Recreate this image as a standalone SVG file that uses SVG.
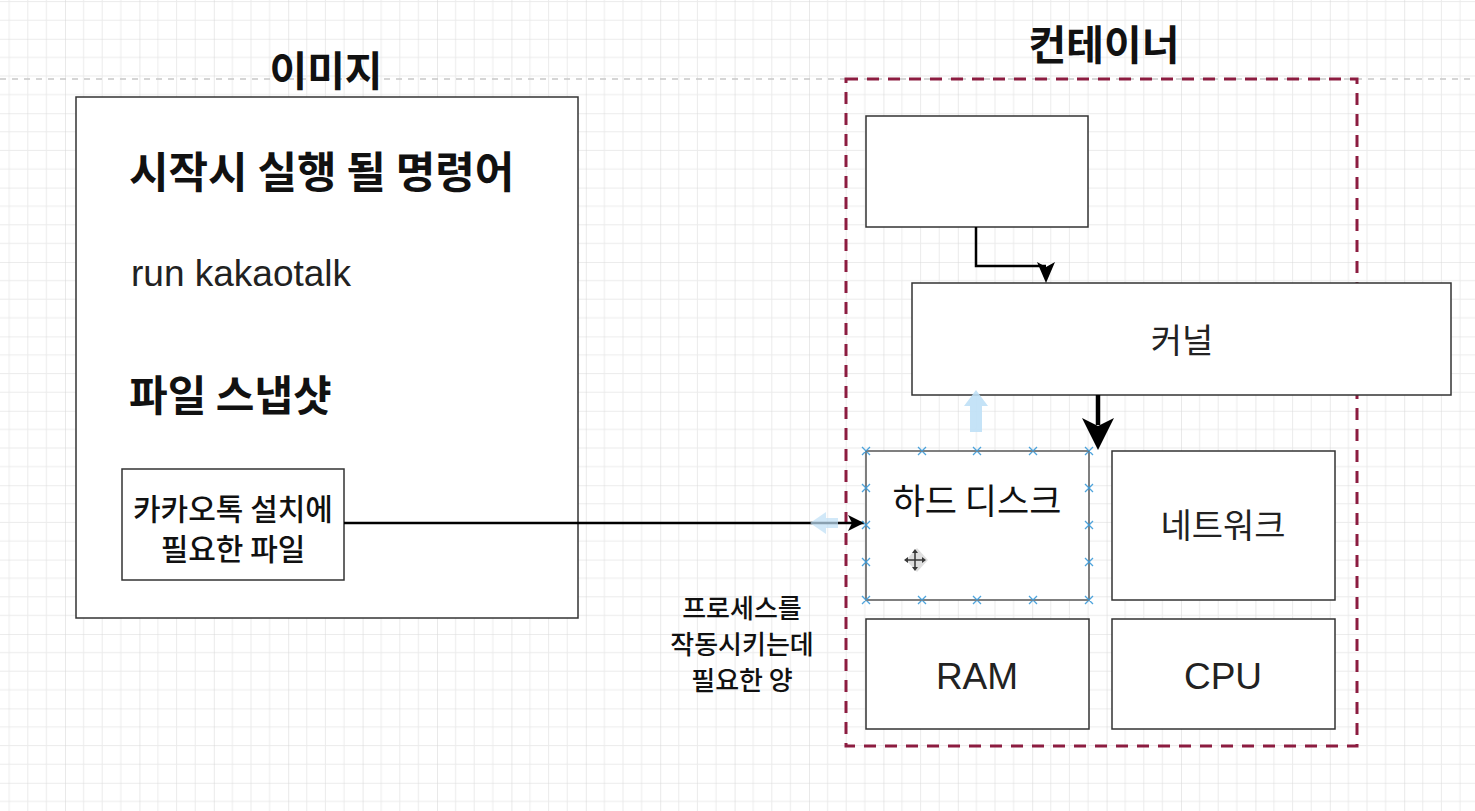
<svg xmlns="http://www.w3.org/2000/svg" width="1475" height="811" viewBox="0 0 1475 811">
<defs>
<pattern id="grid" patternUnits="userSpaceOnUse" x="-9.4" y="-35.6" width="74.4" height="74.4">
<path d="M18.6 0V74.4M37.2 0V74.4M55.8 0V74.4M0 18.6H74.4M0 37.2H74.4M0 55.8H74.4" stroke="#ebebeb" stroke-width="1" fill="none"/>
<path d="M0 0V74.4M0 0H74.4" stroke="#dadada" stroke-width="1.2" fill="none"/>
</pattern>
<marker id="arr" markerWidth="18" markerHeight="16" refX="16" refY="8" orient="auto" markerUnits="userSpaceOnUse">
<path d="M0 0L16 8L0 16L4 8Z" fill="#000"/>
</marker>
</defs>
<style>
.box{fill:#fff;stroke:#333;stroke-width:1.5}
.kr{font-family:"Noto Sans CJK KR","Noto Sans",sans-serif;fill:#111}
.en{font-family:"Liberation Sans",Arial,sans-serif;fill:#222}
.title{font-size:41px;font-weight:bold}
.h{font-weight:bold}
.lbl{font-size:34px;fill:#222}
.mid{text-anchor:middle}
.hd{stroke:#3a9ad9;stroke-width:1.3}
</style>
<rect width="1475" height="811" fill="#fff"/>
<rect width="1475" height="811" fill="url(#grid)"/>
<line x1="0" y1="79" x2="1475" y2="79" stroke="#c8c8c8" stroke-width="1.5" stroke-dasharray="6 6"/>

<g id="image-title"><text class="kr title mid" x="326" y="86">이미지</text></g>
<g id="image-box">
<rect class="box" x="76" y="97" width="502" height="521"/>
<text class="kr h" x="129" y="188" font-size="43">시작시 실행 될 명령어</text>
<text class="en" x="131" y="286" font-size="37">run kakaotalk</text>
<text class="kr h" x="129" y="411" font-size="42">파일 스냅샷</text>
</g>
<g id="files-box">
<rect class="box" x="122" y="469" width="222" height="111"/>
<text class="kr mid" x="233" y="520" font-size="30" font-weight="500">카카오톡 설치에</text>
<text class="kr mid" x="233" y="560" font-size="30" font-weight="500">필요한 파일</text>
</g>

<g id="container-title"><text class="kr title mid" x="1104" y="60">컨테이너</text></g>
<g id="container">
<rect x="846" y="79" width="511" height="667" fill="none" stroke="#8c1c40" stroke-width="3" stroke-dasharray="12 9"/>
</g>
<g id="top-box"><rect class="box" x="866" y="116" width="222" height="111"/></g>
<g id="kernel">
<rect class="box" x="912" y="283" width="539" height="112"/>
<text class="kr lbl mid" x="1182" y="353">커널</text>
</g>
<g id="harddisk">
<rect x="866" y="451" width="223" height="149" fill="#fff" stroke="#555" stroke-width="1.5"/>
<text class="kr mid" x="977" y="514" font-size="35" fill="#222">하드 디스크</text>
</g>
<g id="network">
<rect class="box" x="1112" y="451" width="223" height="149"/>
<text class="kr lbl mid" x="1223" y="538">네트워크</text>
</g>
<g id="ram">
<rect class="box" x="866" y="619" width="223" height="110"/>
<text class="en mid" x="977" y="689" font-size="37">RAM</text>
</g>
<g id="cpu">
<rect class="box" x="1112" y="619" width="223" height="110"/>
<text class="en mid" x="1223" y="689" font-size="37">CPU</text>
</g>
<g id="process-label">
<text class="kr mid" x="742" y="618" font-size="26" font-weight="500">프로세스를</text>
<text class="kr mid" x="742" y="654" font-size="26" font-weight="500">작동시키는데</text>
<text class="kr mid" x="742" y="690" font-size="26" font-weight="500">필요한 양</text>
</g>

<g id="connectors">
<path d="M976 227V266H1046" fill="none" stroke="#000" stroke-width="2.5"/>
<path d="M1037 262L1046 283L1055 262L1046 267Z" fill="#000"/>
<line x1="344" y1="523" x2="864" y2="523" stroke="#000" stroke-width="2.5" marker-end="url(#arr)"/>
<line x1="1098" y1="395" x2="1098" y2="425" stroke="#000" stroke-width="4.5"/>
<path d="M1082 418L1098 450L1114 418L1098 426Z" fill="#000"/>
</g>

<g id="selection" opacity="0.9">
<path d="M970 432V406H964L976 390L988 406H982V432Z" fill="#bfe0f6"/>
<path d="M838 518H826V512L810 523L826 534V528H838Z" fill="#bfe0f6" opacity="0.8"/>
<g class="hd">
<path d="M862 447l8 8M870 447l-8 8M918 447l8 8M926 447l-8 8M973 447l8 8M981 447l-8 8M1029 447l8 8M1037 447l-8 8M1085 447l8 8M1093 447l-8 8"/>
<path d="M862 596l8 8M870 596l-8 8M918 596l8 8M926 596l-8 8M973 596l8 8M981 596l-8 8M1029 596l8 8M1037 596l-8 8M1085 596l8 8M1093 596l-8 8"/>
<path d="M862 484l8 8M870 484l-8 8M862 521l8 8M870 521l-8 8M862 558l8 8M870 558l-8 8"/>
<path d="M1085 484l8 8M1093 484l-8 8M1085 521l8 8M1093 521l-8 8M1085 558l8 8M1093 558l-8 8"/>
</g>
<g id="move-cursor">
<path d="M917 548L928 560L917 572L906 560Z" fill="#ccc" opacity="0.7"/>
<path d="M915 551V569M906 560H924" stroke="#222" stroke-width="1.5"/>
<path d="M912 553L915 549L918 553ZM912 567L915 571L918 567ZM908 557L904 560L908 563ZM922 557L926 560L922 563Z" fill="#222"/>
</g>
</g>
</svg>
